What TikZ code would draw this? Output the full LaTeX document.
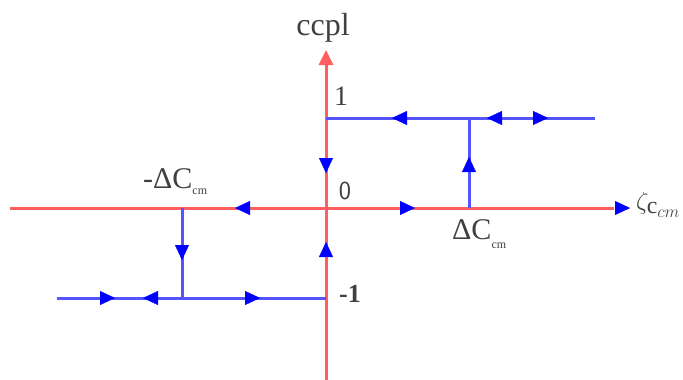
\documentclass[tikz,border=0pt]{standalone}
\usepackage{fontspec}
\setmainfont{Liberation Serif}
\usetikzlibrary{arrows.meta}
\definecolor{axisred}{RGB}{255,95,95}
\definecolor{lineblue}{RGB}{85,85,255}
\tikzset{
  axisline/.style={draw=axisred, line width=3pt},
  pathline/.style={draw=lineblue, line width=3pt},
  tipmark/.style={draw=blue, line width=0.2pt, -{Triangle[length=15pt,width=14pt,fill=blue]}},
  lbl/.style={inner sep=0pt, text=black!75},
}
% #1 = tip point, #2 = a point slightly behind (direction)
\newcommand{\tipat}[2]{\path[tipmark] #2 -- #1;}
\begin{document}
\begin{tikzpicture}[x=1pt,y=-1pt]
\useasboundingbox (0,0) rectangle (683,380);
% coordinates
\coordinate (o) at (326,208);
\coordinate (xl) at (10,208);
\coordinate (xr) at (630,208);
\coordinate (yb) at (326,380);
\coordinate (yt) at (326,50);
\coordinate (t0) at (326,118);
\coordinate (t1) at (469,118);
\coordinate (t2) at (595,118);
\coordinate (tv) at (469,208);
\coordinate (b0) at (57,298);
\coordinate (b1) at (182,298);
\coordinate (b2) at (326,298);
\coordinate (bv) at (182,208);
% axes
\draw[axisline] (xl) -- (614,208);
\draw[axisline, -{Triangle[length=15pt,width=14pt]}] (yb) -- (yt);
\tipat{(xr)}{(629,208)}
% blue paths
\draw[pathline] (t0) -- (t2);
\draw[pathline] (tv) -- (t1);
\draw[pathline] (b0) -- (b2);
\draw[pathline] (bv) -- (b1);
% arrow marks
\tipat{(392,118)}{(393,118)}
\tipat{(487,118)}{(488,118)}
\tipat{(548,118)}{(547,118)}
\tipat{(469,157)}{(469,158)}
\tipat{(235,208)}{(236,208)}
\tipat{(415,208)}{(414,208)}
\tipat{(326,173)}{(326,172)}
\tipat{(326,242)}{(326,243)}
\tipat{(182,260)}{(182,259)}
\tipat{(115,298)}{(114,298)}
\tipat{(143,298)}{(144,298)}
\tipat{(260,298)}{(259,298)}
% labels
\node[lbl, font=\fontsize{32}{34}\selectfont] (ccpl) at (323,28) {ccpl};
\node[lbl, font=\fontsize{28}{30}\selectfont] (one) at (341,96) {1};
\node[lbl, font=\fontsize{26}{30}\sffamily\selectfont] (zero) at (345,191) {0};
\node[lbl, font=\bfseries\fontsize{26}{30}\selectfont] (mone) at (350,294) {-1};
\node[lbl, font=\fontsize{30}{32}\selectfont, anchor=base west] (mdc) at (143,188) {-ΔC\raisebox{-6pt}{\fontsize{12}{12}\selectfont cm}};
\node[lbl, font=\fontsize{30}{32}\selectfont, anchor=base west] (dc) at (452,239) {ΔC\raisebox{-9pt}{\fontsize{12}{12}\selectfont cm}};
\node[lbl, font=\fontsize{34}{36}\selectfont, anchor=west] (zeta) at (636,205) {$\zeta_{\mathrm{c}_{cm}}$};
\end{tikzpicture}
\end{document}
